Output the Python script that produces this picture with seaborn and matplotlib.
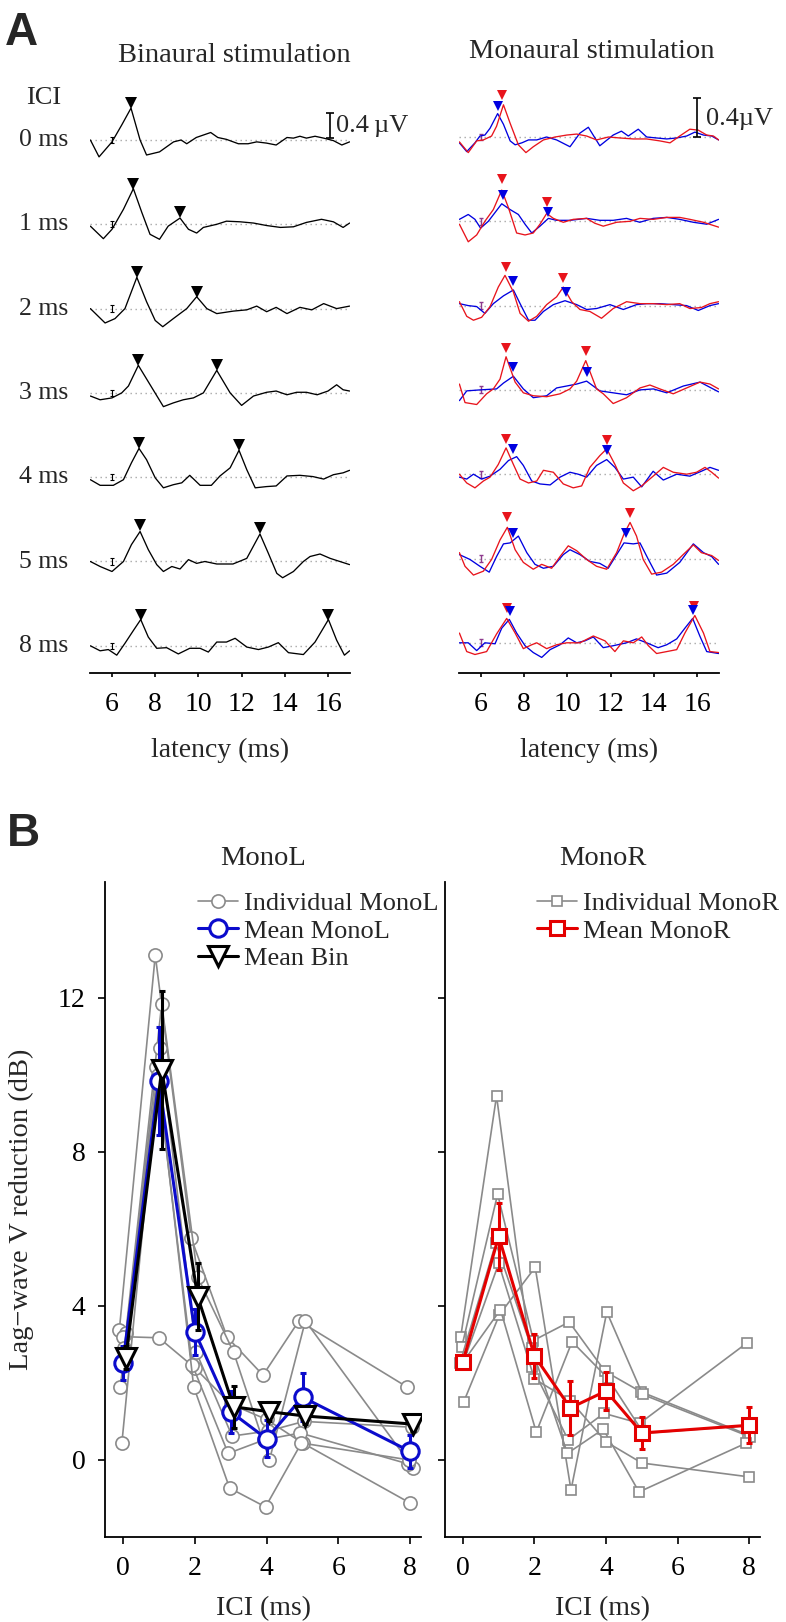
import numpy as np
import pandas as pd
import matplotlib
matplotlib.use("Agg")
import matplotlib.pyplot as plt
from matplotlib.lines import Line2D
import seaborn as sns

# ======================= DATA =======================
# ---- Panel A: ABR traces (latency ms, amplitude uV relative to row baseline)
ici_labels = ["0 ms", "1 ms", "2 ms", "3 ms", "4 ms", "5 ms", "8 ms"]
latency_ticks = [6, 8, 10, 12, 14, 16]

bin_0 = [(5.0,0.0),(5.4,-0.27),(6.0,-0.03),(6.45,0.24),(6.88,0.51),(7.3,0.0),(7.6,-0.24),(8.2,-0.19),(8.85,-0.03),(9.2,0.0),(9.46,-0.06),(9.9,0.04),(10.57,0.12),(10.9,0.04),(11.3,0.01),(11.85,-0.06),(12.3,-0.06),(12.7,-0.03),(13.16,-0.05),(13.6,-0.08),(14.1,0.04),(14.4,0.03),(14.7,0.06),(15.0,0.03),(15.4,0.06),(15.8,0.03),(16.25,-0.01),(16.64,-0.08),(17.0,-0.03)]
bin_1 = [(5.0,-0.03),(5.6,-0.23),(6.0,-0.08),(6.53,0.24),(6.99,0.57),(7.38,0.19),(7.76,-0.16),(8.2,-0.24),(8.6,-0.03),(9.15,0.10),(9.54,-0.08),(9.92,-0.14),(10.23,-0.05),(10.85,0.0),(11.3,0.05),(11.93,0.04),(12.55,0.02),(13.16,-0.02),(13.8,-0.05),(14.4,-0.04),(15.0,0.03),(15.7,0.08),(16.25,0.04),(16.7,-0.05),(17.0,0.02)]
bin_2 = [(5.0,0.0),(5.68,-0.23),(6.14,-0.16),(6.6,0.0),(7.15,0.50),(7.6,0.11),(8.0,-0.19),(8.35,-0.29),(8.84,-0.16),(9.46,0.0),(9.92,0.19),(10.39,0.0),(10.85,-0.08),(11.62,-0.04),(12.24,-0.02),(12.7,0.04),(13.16,-0.05),(13.6,0.02),(14.1,-0.08),(14.7,0.02),(15.25,-0.02),(15.8,0.08),(16.4,0.0),(17.0,0.04)]
bin_3 = [(5.0,-0.05),(5.45,-0.11),(6.0,-0.08),(6.45,0.0),(6.76,0.11),(7.22,0.44),(8.38,-0.22),(8.84,-0.16),(9.3,-0.11),(9.77,-0.08),(10.23,0.0),(10.85,0.36),(11.47,0.0),(12.0,-0.2),(12.55,-0.05),(13.16,0.01),(13.6,0.03),(14.1,-0.03),(14.55,0.01),(15.0,0.01),(15.5,-0.03),(16.0,0.03),(16.4,0.13),(16.7,0.05),(17.0,0.03)]
bin_4 = [(5.0,-0.04),(5.45,-0.13),(6.06,-0.13),(6.53,-0.04),(6.9,0.23),(7.25,0.46),(7.6,0.28),(8.0,-0.01),(8.38,-0.17),(8.84,-0.12),(9.23,-0.09),(9.6,0.03),(10.08,-0.13),(10.6,-0.13),(11.0,0.02),(11.47,0.15),(11.88,0.43),(12.24,0.12),(12.63,-0.17),(13.16,-0.15),(13.6,-0.14),(14.1,0.02),(14.7,0.03),(15.3,0.01),(15.8,-0.03),(16.25,0.04),(16.7,0.07),(17.0,0.11)]
bin_5 = [(5.0,0.0),(5.45,-0.08),(6.0,-0.16),(6.53,0.0),(6.9,0.27),(7.3,0.48),(7.68,0.19),(8.07,-0.05),(8.38,-0.16),(8.77,-0.08),(9.15,-0.12),(9.54,0.03),(9.92,-0.03),(10.3,0.0),(10.85,-0.04),(11.6,-0.04),(12.24,0.05),(12.85,0.44),(13.24,0.13),(13.63,-0.19),(13.9,-0.26),(14.4,-0.16),(14.86,0.0),(15.17,0.08),(15.63,0.12),(16.1,0.05),(16.55,0.0),(17.0,-0.05)]
bin_8 = [(5.0,0.0),(5.45,-0.08),(5.83,-0.06),(6.22,-0.15),(6.6,0.04),(7.0,0.25),(7.33,0.42),(7.68,0.14),(8.07,-0.04),(8.53,-0.03),(9.07,-0.13),(9.6,-0.04),(10.08,-0.04),(10.46,-0.1),(10.85,0.06),(11.3,0.06),(11.7,0.12),(12.24,-0.02),(12.78,-0.06),(13.24,-0.02),(13.7,0.05),(14.17,-0.11),(14.86,-0.14),(15.4,0.06),(16.02,0.42),(16.4,0.09),(16.76,-0.15),(17.0,-0.08)]
bin_traces = [bin_0, bin_1, bin_2, bin_3, bin_4, bin_5, bin_8]

monoL_0 = [(5.0,-0.06),(5.34,-0.15),(5.72,-0.06),(5.95,0.01),(6.18,0.02),(6.42,0.09),(6.77,0.24),(7.04,0.13),(7.35,-0.04),(7.58,-0.08),(7.89,-0.06),(8.2,-0.03),(8.58,-0.03),(9.04,0.0),(9.5,-0.03),(10.12,-0.1),(10.58,0.04),(10.97,0.1),(11.5,-0.09),(12.12,0.02),(12.5,0.06),(12.82,0.01),(13.28,0.08),(13.67,0.0),(14.13,-0.01),(14.6,-0.02),(15.06,-0.01),(15.52,0.01),(15.9,0.05),(16.3,0.02),(16.68,0.01),(17.0,-0.03)]
monoL_1 = [(5.0,0.02),(5.41,0.07),(5.72,0.02),(5.98,-0.07),(6.34,0.0),(6.65,0.09),(6.96,0.18),(7.35,0.12),(7.73,0.07),(8.04,-0.03),(8.35,-0.12),(8.73,-0.05),(9.12,0.03),(9.5,0.01),(10.12,0.01),(10.89,0.03),(11.5,0.01),(12.12,0.01),(12.74,0.03),(13.35,-0.01),(13.97,0.03),(14.6,0.04),(15.2,0.02),(15.83,-0.01),(16.45,-0.03),(17.0,0.02)]
monoL_2 = [(5.0,0.02),(5.41,0.0),(5.8,-0.01),(6.18,-0.08),(6.57,0.02),(7.04,0.1),(7.5,0.16),(7.81,0.02),(8.2,-0.15),(8.5,-0.15),(8.89,-0.06),(9.35,0.01),(9.89,0.05),(10.43,0.01),(10.89,-0.04),(11.35,-0.03),(11.97,0.01),(12.59,-0.04),(13.2,0.01),(13.67,0.02),(14.28,0.02),(14.9,0.01),(15.52,0.0),(16.06,-0.05),(16.6,0.0),(17.0,0.02)]
monoL_3 = [(5.0,-0.11),(5.34,-0.01),(5.95,0.0),(6.72,0.01),(7.04,0.07),(7.5,0.14),(7.96,0.01),(8.42,-0.08),(9.04,-0.06),(9.5,0.02),(9.97,0.04),(10.43,0.06),(10.89,0.09),(11.5,-0.01),(12.12,-0.03),(12.74,-0.05),(13.36,0.0),(13.98,0.01),(14.6,-0.03),(15.37,0.04),(16.14,0.08),(17.0,-0.02)]
monoL_4 = [(5.0,-0.03),(5.34,-0.05),(5.65,0.0),(6.03,-0.05),(6.42,-0.02),(6.88,0.05),(7.27,0.14),(7.65,0.18),(7.96,0.09),(8.35,-0.07),(8.73,-0.1),(9.2,-0.11),(9.66,-0.03),(10.12,0.02),(10.5,0.0),(10.89,-0.03),(11.35,0.09),(11.82,0.15),(12.2,0.07),(12.59,-0.05),(13.05,-0.03),(13.44,-0.13),(13.97,0.03),(14.44,-0.06),(15.06,0.0),(15.67,-0.02),(16.2,0.03),(16.6,0.07),(17.0,0.04)]
monoL_5 = [(5.0,0.04),(5.49,-0.01),(5.95,-0.08),(6.38,-0.14),(6.72,0.02),(7.04,0.15),(7.35,0.16),(7.73,0.23),(8.12,0.06),(8.5,-0.06),(8.89,-0.1),(9.35,-0.08),(9.81,0.04),(10.12,0.09),(10.58,0.04),(11.04,-0.03),(11.5,-0.05),(11.89,-0.1),(12.28,0.04),(12.62,0.16),(13.05,0.15),(13.36,0.16),(13.75,-0.01),(14.13,-0.17),(14.6,-0.15),(15.2,-0.04),(15.83,0.15),(16.3,0.06),(16.68,0.02),(17.0,-0.06)]
monoL_8 = [(5.0,0.0),(5.41,0.0),(5.8,-0.08),(6.18,0.0),(6.65,-0.01),(6.96,0.15),(7.31,0.24),(7.65,0.1),(8.04,-0.03),(8.42,-0.1),(8.81,-0.15),(9.2,-0.07),(9.66,-0.02),(10.04,0.05),(10.43,0.0),(10.81,0.02),(11.2,0.06),(11.66,-0.05),(12.12,-0.03),(12.74,0.0),(13.2,0.04),(13.67,0.0),(14.2,-0.05),(14.6,-0.02),(15.06,0.04),(15.44,0.15),(15.8,0.25),(16.13,0.07),(16.45,-0.09),(17.0,-0.11)]
monoL_traces = [monoL_0, monoL_1, monoL_2, monoL_3, monoL_4, monoL_5, monoL_8]

monoR_0 = [(5.0,-0.05),(5.41,-0.16),(5.8,-0.04),(6.11,-0.03),(6.49,0.01),(6.72,0.11),(7.04,0.33),(7.35,0.14),(7.73,-0.08),(8.08,-0.16),(8.42,-0.1),(8.89,-0.03),(9.43,0.0),(9.97,0.02),(10.43,0.03),(10.89,0.01),(11.35,-0.03),(11.9,0.0),(12.43,-0.01),(13.05,-0.02),(13.67,-0.02),(14.28,-0.04),(14.75,-0.06),(15.2,0.01),(15.67,0.08),(16.06,0.07),(16.45,0.02),(16.76,0.01),(17.0,-0.03)]
monoR_1 = [(5.0,-0.03),(5.41,-0.21),(5.8,-0.14),(6.18,0.0),(6.57,0.12),(6.96,0.32),(7.27,0.14),(7.65,-0.12),(8.04,-0.14),(8.42,-0.12),(8.73,-0.03),(9.04,0.08),(9.35,0.03),(9.81,-0.01),(10.27,0.02),(10.89,0.03),(11.27,-0.02),(11.66,-0.05),(12.28,-0.01),(12.9,0.0),(13.36,0.03),(13.97,0.02),(14.6,0.04),(15.2,0.04),(15.67,0.02),(16.3,-0.01),(17.0,-0.06)]
monoR_2 = [(5.0,0.04),(5.34,-0.11),(5.65,-0.15),(6.03,-0.12),(6.42,-0.01),(6.8,0.19),(7.11,0.31),(7.5,0.14),(7.81,-0.08),(8.2,-0.16),(8.58,-0.11),(9.04,0.01),(9.5,0.09),(9.81,0.19),(10.2,0.04),(10.58,-0.04),(11.04,-0.06),(11.58,-0.13),(12.12,-0.03),(12.74,0.04),(13.36,0.02),(13.97,0.02),(14.6,0.01),(15.2,0.02),(15.67,-0.03),(16.2,-0.02),(16.6,0.02),(17.0,0.04)]
monoR_3 = [(5.0,0.06),(5.26,-0.13),(5.8,-0.15),(6.26,-0.04),(6.57,0.01),(6.88,0.11),(7.16,0.34),(7.58,0.08),(7.96,-0.03),(8.42,-0.06),(9.04,-0.07),(9.66,-0.04),(10.12,0.01),(10.43,0.09),(10.85,0.30),(11.35,0.01),(11.66,-0.04),(12.12,-0.14),(12.74,-0.08),(13.36,0.02),(13.82,0.05),(14.28,0.01),(14.9,-0.04),(15.52,0.02),(16.14,0.08),(16.6,0.06),(17.0,0.01)]
monoR_4 = [(5.0,0.0),(5.34,-0.09),(5.72,-0.14),(6.11,-0.07),(6.42,-0.03),(6.8,0.1),(7.16,0.27),(7.5,0.1),(7.81,-0.05),(8.2,-0.09),(8.58,-0.07),(8.89,0.04),(9.35,0.02),(9.81,-0.1),(10.27,-0.14),(10.66,-0.12),(11.04,0.07),(11.5,0.19),(11.82,0.26),(12.2,0.1),(12.59,-0.09),(13.05,-0.17),(13.44,-0.12),(13.97,-0.02),(14.44,0.07),(14.9,0.02),(15.52,0.0),(15.98,0.02),(16.37,0.07),(16.68,0.02),(17.0,-0.04)]
monoR_5 = [(5.0,0.06),(5.26,-0.08),(5.65,-0.17),(6.11,-0.13),(6.49,-0.01),(6.88,0.19),(7.22,0.32),(7.58,0.09),(7.96,-0.04),(8.42,-0.11),(8.81,-0.06),(9.27,-0.1),(9.66,0.02),(10.04,0.13),(10.43,0.08),(10.89,-0.01),(11.35,-0.08),(11.82,-0.11),(12.28,0.06),(12.62,0.25),(12.9,0.37),(13.2,0.23),(13.51,-0.01),(13.9,-0.16),(14.36,-0.14),(14.9,-0.06),(15.36,0.04),(15.83,0.14),(16.2,0.06),(16.68,0.03),(17.0,-0.02)]
monoR_8 = [(5.0,0.1),(5.34,-0.09),(5.72,-0.12),(6.26,-0.09),(6.72,0.09),(7.19,0.25),(7.58,0.1),(7.96,-0.06),(8.35,-0.02),(8.58,0.0),(9.04,-0.06),(9.5,-0.02),(9.97,0.0),(10.58,0.0),(11.2,0.07),(11.74,0.02),(12.2,-0.09),(12.59,0.02),(13.05,0.0),(13.44,0.06),(13.75,-0.03),(14.13,-0.11),(14.6,-0.09),(15.06,-0.07),(15.44,0.1),(15.9,0.28),(16.3,0.1),(16.6,-0.09),(17.0,-0.1)]
monoR_traces = [monoR_0, monoR_1, monoR_2, monoR_3, monoR_4, monoR_5, monoR_8]

# peak markers (latency, marker amplitude uV)
bin_peak_lat = [[6.88], [6.99, 9.15], [7.15, 9.92], [7.22, 10.87], [7.25, 11.88], [7.3, 12.85], [7.33, 16.02]]
bin_peak_amp = [[0.60], [0.65, 0.20], [0.59, 0.26], [0.53, 0.45], [0.55, 0.52], [0.58, 0.53], [0.50, 0.50]]
monoL_peak_lat = [[6.77], [7.03, 9.09], [7.5, 9.92], [7.5, 10.89], [7.5, 11.85], [7.5, 12.7], [7.34, 15.8]]
monoL_peak_amp = [[0.32], [0.27, 0.10], [0.25, 0.14], [0.23, 0.18], [0.26, 0.25], [0.26, 0.26], [0.33, 0.34]]
monoR_peak_lat = [[6.96], [6.99, 9.04], [7.16, 9.81], [7.16, 10.85], [7.14, 11.82], [7.22, 12.9], [7.22, 15.86]]
monoR_peak_amp = [[0.43], [0.43, 0.20], [0.40, 0.28], [0.43, 0.40], [0.36, 0.35], [0.43, 0.47], [0.36, 0.38]]

# small baseline-noise bars at 6 ms
noise_lat = 6.0
bin_noise = 0.05
mono_noise = 0.035

# ---- Panel B: lag-wave V reduction (dB)
ici = [0, 1, 2, 3, 4, 5, 8]
ici_ticks = [0, 2, 4, 6, 8]
db_ticks = [0, 4, 8, 12]

monoL_individual = [
    [3.38, 13.1, 5.76, 3.19, 2.2, 3.61, 1.9],
    [3.3, 11.84, 4.75, 2.8, 0.0, 3.61, -0.2],
    [3.2, 3.17, 2.39, 1.45, 1.05, 0.44, -1.12],
    [2.9, 10.68, 2.8, 0.62, 0.75, 1.0, 0.85],
    [1.9, 10.2, 2.47, 0.17, 0.52, 0.7, -0.1],
    [0.44, 10.0, 1.9, -0.73, -1.22, 0.44, 0.0],
]
monoL_mean = [2.52, 9.84, 3.33, 1.25, 0.55, 1.63, 0.22]
monoL_se = [0.45, 1.4, 0.6, 0.55, 0.48, 0.62, 0.43]
bin_mean = [2.65, 10.13, 4.24, 1.38, 1.25, 1.14, 0.93]
bin_se = [0.3, 2.05, 0.87, 0.55, 0.25, 0.2, 0.18]

monoR_individual = [
    [3.2, 9.45, 2.4, 0.52, 1.21, 0.95, 3.04],
    [2.94, 6.9, 3.1, 3.58, 2.3, 1.77, 0.65],
    [1.5, 3.77, 5.0, -0.78, 3.84, 1.7, 0.6],
    [2.6, 3.9, 0.72, 3.07, 2.12, 0.69, 0.9],
    [2.52, 5.63, 2.9, 0.17, 0.8, -0.83, 0.44],
    [2.5, 5.1, 2.1, 1.54, 0.47, -0.08, -0.44],
]
monoR_mean = [2.55, 5.8, 2.7, 1.35, 1.79, 0.7, 0.9]
monoR_se = [0.15, 0.87, 0.57, 0.7, 0.5, 0.42, 0.47]

# ======================= STYLE =======================
sns.set_theme(style="white")
plt.rcParams["font.family"] = ["Liberation Serif", "DejaVu Serif"]
plt.rcParams["axes.linewidth"] = 1.2
plt.rcParams["axes.edgecolor"] = "black"

BLACK = "black"
BLUE_A = "#0000e0"
RED_A = "#e8141c"
BLUE_B = "#0b0bcc"
RED_B = "#e40000"
GRAY = "#8a8a8a"
PURPLE = "#8e3a8e"

W, H = 786, 1622
fig = plt.figure(figsize=(W / 100, H / 100), dpi=100)


def px_axes(x0, x1, y0, y1):
    return fig.add_axes([x0 / W, 1 - y1 / H, (x1 - x0) / W, (y1 - y0) / H])


# ======================= PANEL A =======================
A_TOP, A_BOT = 90, 673
row_gap_px = 84.3
axL = px_axes(90.4, 349.6, A_TOP, A_BOT)
axR = px_axes(459.4, 718.6, A_TOP, A_BOT)

uvL = 0.4 / 25.0   # uV per pixel, binaural column
uvR = 0.4 / 39.0   # uV per pixel, monaural column
base0L, base0R = 140, 137

for ax, uv, b0 in [(axL, uvL, base0L), (axR, uvR, base0R)]:
    ax.set_xlim(5, 17)
    ax.set_ylim(-(A_BOT - b0) * uv, (b0 - A_TOP) * uv)
    for s in ["left", "right", "top"]:
        ax.spines[s].set_visible(False)
    ax.spines["bottom"].set_linewidth(1.3)
    ax.set_yticks([])
    ax.set_xticks(latency_ticks)
    ax.tick_params(axis="x", direction="out", length=3, width=1.2, pad=11,
                   labelsize=20, bottom=True, colors="black")
    ax.set_xlabel("latency (ms)", fontsize=20)
    ax.xaxis.set_label_coords(0.5, -(738 - A_BOT) / (A_BOT - A_TOP))
    ax.patch.set_alpha(0)

offL = [-i * row_gap_px * uvL for i in range(7)]
offR = [-i * row_gap_px * uvR for i in range(7)]


def draw_trace(ax, trace, off, color, z):
    lat = np.array([p[0] for p in trace])
    amp = np.array([p[1] for p in trace]) + off
    sns.lineplot(x=lat, y=amp, ax=ax, color=color, lw=0.95, estimator=None,
                 sort=False, errorbar=None, zorder=z, solid_joinstyle="round")


def draw_peaks(ax, lats, amps, off, color, ms, z):
    ax.plot(lats, np.array(amps) + off, linestyle="none", marker="v", ms=ms,
            color=color, mec=color, mew=0, zorder=z, clip_on=False)


for i in range(7):
    # binaural
    axL.plot([5, 17], [offL[i], offL[i]], color="#a8a8a8", lw=1.0,
             ls=(0, (1, 2.6)), zorder=1)
    draw_trace(axL, bin_traces[i], offL[i], BLACK, 3)
    draw_peaks(axL, bin_peak_lat[i], bin_peak_amp[i], offL[i], BLACK, 9, 4)
    axL.errorbar([noise_lat], [offL[i]], yerr=[bin_noise], color=BLACK, lw=0.8,
                 capsize=1.5, capthick=0.8, zorder=2)
    axL.text(3.96, offL[i], ici_labels[i], ha="right", va="center", fontsize=18.5,
             clip_on=False)
    # monaural
    axR.plot([5, 17], [offR[i], offR[i]], color="#a8a8a8", lw=1.0,
             ls=(0, (1, 2.6)), zorder=1)
    draw_trace(axR, monoL_traces[i], offR[i], BLUE_A, 3)
    draw_trace(axR, monoR_traces[i], offR[i], RED_A, 3.5)
    draw_peaks(axR, monoR_peak_lat[i], monoR_peak_amp[i], offR[i], RED_A, 7.5, 4)
    draw_peaks(axR, monoL_peak_lat[i], monoL_peak_amp[i], offR[i], BLUE_A, 7.5, 4.5)
    axR.errorbar([noise_lat], [offR[i]], yerr=[mono_noise], color=PURPLE, lw=1.0,
                 capsize=1.5, capthick=1.0, zorder=2)

axL.text(2.85, 0.67, "ICI", ha="center", va="center", fontsize=19, clip_on=False)

# scale bars
axL.errorbar([16.09], [0.23], yerr=[0.2], color=BLACK, lw=1.2, capsize=3,
             capthick=1.2, zorder=5)
axL.text(16.35, 0.22, "0.4\u2009\u00b5V", ha="left", va="center", fontsize=19,
         clip_on=False)
axR.errorbar([16.0], [0.2], yerr=[0.2], color=BLACK, lw=1.2, capsize=3,
             capthick=1.2, zorder=5)
axR.text(16.42, 0.18, "0.4\u00b5V", ha="left", va="center", fontsize=19,
         clip_on=False)

fig.text(234.5 / W, 1 - 55 / H, "Binaural stimulation", ha="center", va="center",
         fontsize=20.5)
fig.text(592 / W, 1 - 52 / H, "Monaural stimulation", ha="center", va="center",
         fontsize=20.5)
fig.text(5 / W, 1 - 45 / H, "A", ha="left", va="baseline", fontsize=33,
         fontweight="bold", family="Liberation Sans")
fig.text(7 / W, 1 - 846 / H, "B", ha="left", va="baseline", fontsize=33,
         fontweight="bold", family="Liberation Sans")

# ======================= PANEL B =======================
B_TOP, B_BOT = 882, 1537
axB1 = px_axes(105, 421, B_TOP, B_BOT)
axB2 = px_axes(445, 760, B_TOP, B_BOT)

jitter_L = [-0.1, 0.08, 0.0, 0.04, -0.07, -0.03]
jitter_R = [-0.06, -0.03, 0.02, 0.05, -0.08, 0.0]


def indiv_frame(rows, jit):
    recs = []
    for s, vals in enumerate(rows):
        for x, v in zip(ici, vals):
            recs.append({"subject": s, "x": x + jit[s], "dB": v})
    return pd.DataFrame(recs)


dfL = indiv_frame(monoL_individual, jitter_L)
dfR = indiv_frame(monoR_individual, jitter_R)

sns.lineplot(data=dfL, x="x", y="dB", units="subject", estimator=None, ax=axB1,
             color=GRAY, lw=1.2, marker="o", ms=9.5, mfc="white", mec=GRAY,
             mew=1.2, zorder=2, errorbar=None)
sns.lineplot(data=dfR, x="x", y="dB", units="subject", estimator=None, ax=axB2,
             color=GRAY, lw=1.2, marker="s", ms=7.5, mfc="white", mec=GRAY,
             mew=1.2, zorder=2, errorbar=None)

bin_x = np.array(ici) + 0.08

axB1.errorbar(ici, monoL_mean, yerr=monoL_se, fmt="none", ecolor=BLUE_B, elinewidth=2.2,
              capsize=2.5, capthick=2.2, zorder=3)
sns.lineplot(x=ici, y=monoL_mean, ax=axB1, color=BLUE_B, lw=2.2, marker="o", ms=12.5,
             mfc="white", mec=BLUE_B, mew=2.2, zorder=4, errorbar=None, estimator=None)
axB1.errorbar(bin_x, bin_mean, yerr=bin_se, fmt="none", ecolor=BLACK, elinewidth=2.2,
              capsize=2.5, capthick=2.2, zorder=5)
sns.lineplot(x=bin_x, y=bin_mean, ax=axB1, color=BLACK, lw=2.2, marker="v", ms=14,
             mfc="white", mec=BLACK, mew=2.2, zorder=6, errorbar=None, estimator=None)

axB2.errorbar(ici, monoR_mean, yerr=monoR_se, fmt="none", ecolor=RED_B, elinewidth=2.2,
              capsize=2.5, capthick=2.2, zorder=3)
sns.lineplot(x=ici, y=monoR_mean, ax=axB2, color=RED_B, lw=2.2, marker="s", ms=10.5,
             mfc="white", mec=RED_B, mew=2.2, zorder=4, errorbar=None, estimator=None)

for ax, title in [(axB1, "MonoL"), (axB2, "MonoR")]:
    ax.set_xlim(-0.5, 8.3)
    ax.set_ylim(-2, 15)
    ax.set_xticks(ici_ticks)
    ax.set_yticks(db_ticks)
    for s in ["right", "top"]:
        ax.spines[s].set_visible(False)
    for s in ["left", "bottom"]:
        ax.spines[s].set_linewidth(1.3)
    ax.tick_params(axis="both", direction="out", length=5, width=1.2, labelsize=20,
                   left=True, bottom=True, colors="black")
    ax.tick_params(axis="x", pad=9)
    ax.tick_params(axis="y", pad=9)
    ax.set_title(title, fontsize=20.5, pad=12)
    ax.set_xlabel("ICI (ms)", fontsize=20)
    ax.xaxis.set_label_coords(0.5, -(1596 - B_BOT) / (B_BOT - B_TOP))
    ax.patch.set_alpha(0)

axB1.set_ylabel("Lag\u2212wave V reduction (dB)", fontsize=20.5)
axB1.yaxis.set_label_coords(-(105 - 34) / (421 - 105), 0.5)
axB2.set_ylabel("")
axB2.tick_params(axis="y", labelleft=False)

hL = [
    Line2D([], [], color=GRAY, lw=1.2, marker="o", ms=9.5, mfc="white", mec=GRAY, mew=1.2),
    Line2D([], [], color=BLUE_B, lw=2.2, marker="o", ms=12.5, mfc="white", mec=BLUE_B, mew=2.2),
    Line2D([], [], color=BLACK, lw=2.2, marker="v", ms=14, mfc="white", mec=BLACK, mew=2.2),
]
legL = axB1.legend(hL, ["Individual MonoL", "Mean MonoL", "Mean Bin"],
                   loc="upper left", bbox_to_anchor=(198 / W, 1 - 892 / H),
                   bbox_transform=fig.transFigure, frameon=False, fontsize=19,
                   borderpad=0, borderaxespad=0, handlelength=1.5,
                   handletextpad=0.25, labelspacing=0.14)
hR = [
    Line2D([], [], color=GRAY, lw=1.2, marker="s", ms=7.5, mfc="white", mec=GRAY, mew=1.2),
    Line2D([], [], color=RED_B, lw=2.2, marker="s", ms=10.5, mfc="white", mec=RED_B, mew=2.2),
]
legR = axB2.legend(hR, ["Individual MonoR", "Mean MonoR"],
                   loc="upper left", bbox_to_anchor=(537 / W, 1 - 892 / H),
                   bbox_transform=fig.transFigure, frameon=False, fontsize=19,
                   borderpad=0, borderaxespad=0, handlelength=1.5,
                   handletextpad=0.25, labelspacing=0.14)

fig.savefig("out.png", dpi=100, facecolor="white")
